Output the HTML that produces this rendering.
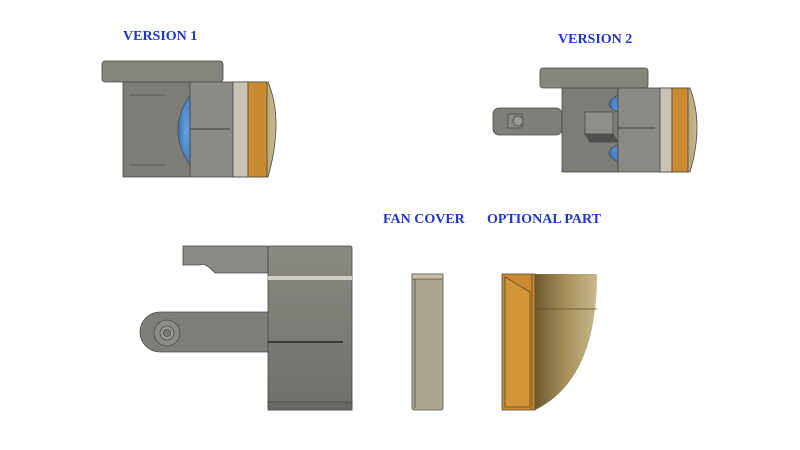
<!DOCTYPE html>
<html><head><meta charset="utf-8"><style>
html,body{margin:0;padding:0;background:#fff;width:800px;height:450px;overflow:hidden}
</style></head><body>
<svg width="800" height="450" viewBox="0 0 800 450" xmlns="http://www.w3.org/2000/svg">
<defs>
<linearGradient id="br" x1="0" y1="0" x2="1" y2="0">
<stop offset="0" stop-color="#6e5a30"/><stop offset="0.5" stop-color="#a8915c"/><stop offset="1" stop-color="#c9b98f"/>
</linearGradient>
<linearGradient id="gr" x1="0" y1="0" x2="0" y2="1">
<stop offset="0" stop-color="#8a8982"/><stop offset="1" stop-color="#6f6e68"/>
</linearGradient>
<radialGradient id="bl" cx="0.7" cy="0.5" r="0.7">
<stop offset="0" stop-color="#6aa2dc"/><stop offset="1" stop-color="#3a70b8"/>
</radialGradient>
</defs>
<g font-family="Liberation Serif, serif" font-weight="bold" font-size="14" fill="#2236c4">
<text x="123" y="40">VERSION 1</text>
<text x="558" y="43">VERSION 2</text>
<text x="383" y="223">FAN COVER</text>
<text x="487" y="223">OPTIONAL PART</text>
</g>

<!-- VERSION 1 -->
<g stroke="#4a4a46" stroke-width="0.8">
<path d="M233 82 L268 82 Q284 120 268 177 L233 177 Z" fill="url(#br)"/>
<rect x="102" y="61" width="121" height="21" rx="3" fill="#85847d"/>
<rect x="123" y="82" width="67" height="95" fill="#7d7c76"/>
<rect x="190" y="82" width="43" height="95" fill="#8b8a84"/>
<rect x="233" y="82" width="15" height="95" fill="#c8c3b3"/>
<rect x="248" y="82" width="19" height="95" fill="#c98a32"/>
<path d="M190 95 Q166 130 190 165 Z" fill="url(#bl)"/>
<line x1="190" y1="129" x2="230" y2="129" stroke="#222"/>
<line x1="130" y1="95" x2="165" y2="95"/><line x1="130" y1="165" x2="165" y2="165"/>
</g>

<!-- VERSION 2 -->
<g stroke="#4a4a46" stroke-width="0.8">
<path d="M660 88 L690 88 Q704 125 690 172 L660 172 Z" fill="url(#br)"/>
<rect x="540" y="68" width="108" height="20" rx="3" fill="#85847d"/>
<rect x="493" y="108" width="69" height="27" rx="6" fill="#7f7e78"/>
<rect x="508" y="114" width="14" height="14" fill="#8c8b85"/>
<circle cx="518" cy="121" r="5" fill="#999"/>
<rect x="562" y="88" width="56" height="84" fill="#7d7c76"/>
<path d="M618 95 Q600 105 618 112 Z M618 145 Q600 152 618 162 Z" fill="url(#bl)"/>
<rect x="618" y="88" width="42" height="84" fill="#8b8a84"/>
<rect x="660" y="88" width="12" height="84" fill="#c8c3b3"/>
<rect x="672" y="88" width="16" height="84" fill="#c98a32"/>
<rect x="585" y="112" width="28" height="22" fill="#8f8e88"/>
<path d="M585 134 L613 134 L618 142 L590 142 Z" fill="#505050"/>
<line x1="618" y1="128" x2="655" y2="128" stroke="#222"/>
</g>

<!-- Bottom main part -->
<g stroke="#4a4a46" stroke-width="0.8">
<path d="M183 246 L268 246 L268 273 L215 273 Q205 262 200 265 L183 265 Z" fill="#8a8983"/>
<path d="M160 312 L268 312 L268 352 L160 352 A20 20 0 0 1 160 312 Z" fill="#7f7e78"/>
<circle cx="167" cy="333" r="13" fill="#8c8b85"/>
<circle cx="167" cy="333" r="7" fill="#9a9993"/>
<circle cx="167" cy="333" r="3.5" fill="#7a7973"/>
<rect x="268" y="246" width="84" height="164" rx="2" fill="url(#gr)"/>
<rect x="268" y="276" width="84" height="4" fill="#cfcdc6" stroke="none"/>
<rect x="268" y="402" width="84" height="8" fill="#6a6964"/>
<line x1="268" y1="342" x2="343" y2="342" stroke="#111" stroke-width="1.2"/>
</g>

<!-- Fan cover -->
<g stroke="#5a584e" stroke-width="0.8">
<rect x="412" y="274" width="31" height="136" rx="2" fill="#aba590"/>
<rect x="412" y="274" width="31" height="5" fill="#c8bfa6"/>
<line x1="415" y1="279" x2="415" y2="408"/>
</g>

<!-- Optional part -->
<g stroke="#5a4a28" stroke-width="0.8">
<path d="M535 274 L597 274 Q597 380 535 410 Z" fill="url(#br)" stroke="none"/>
<line x1="537" y1="309" x2="597" y2="309"/>
<rect x="502" y="274" width="33" height="136" fill="#c98a32"/>
<path d="M505 277 L530 292 L530 407 L505 407 Z" fill="#d4943a"/>
<line x1="532" y1="274" x2="532" y2="410"/>
</g>
</svg>
</body></html>
